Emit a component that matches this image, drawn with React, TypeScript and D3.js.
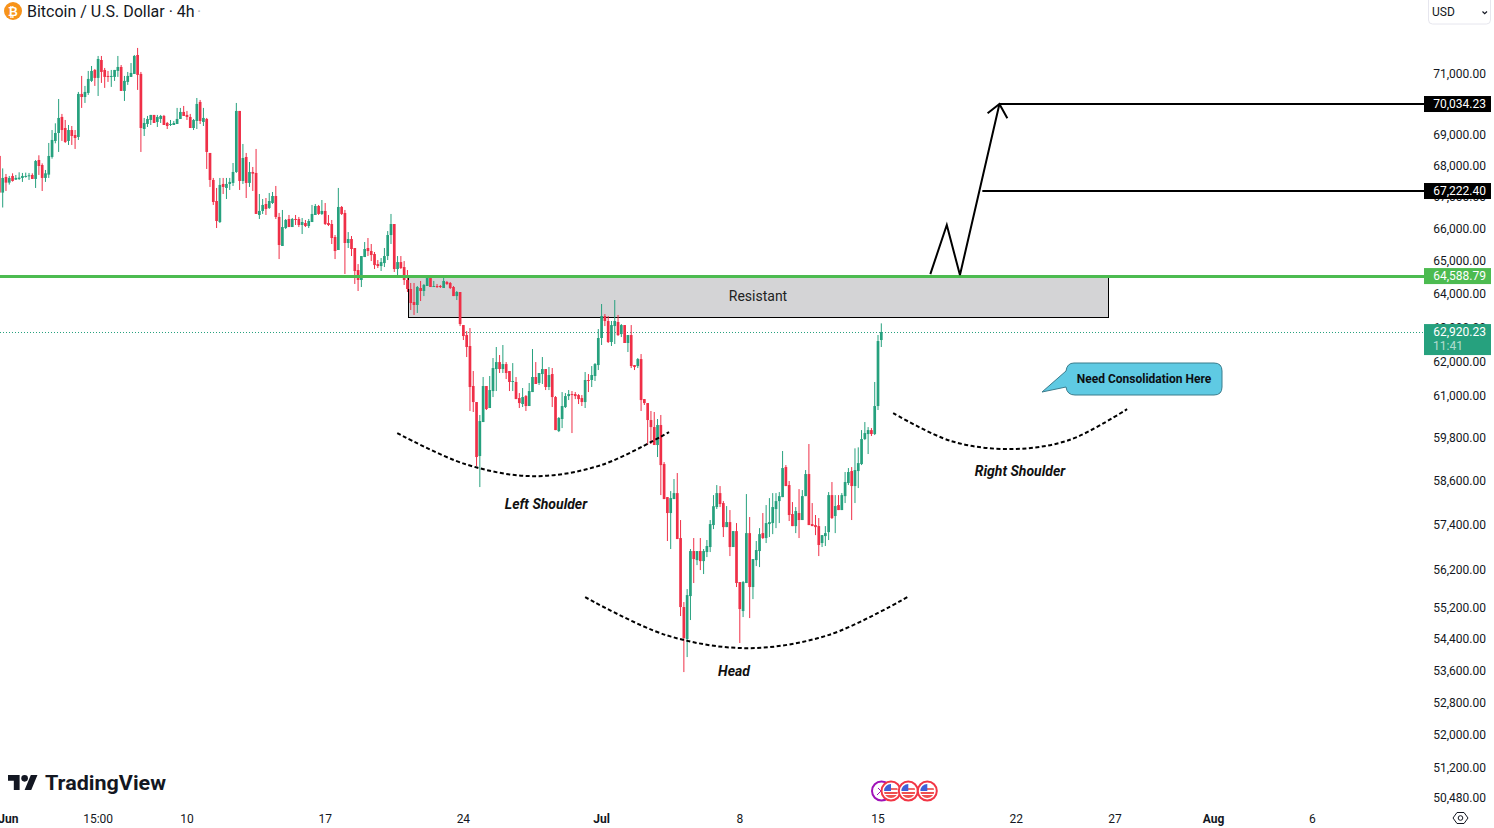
import React, { useEffect, useRef } from 'react'
import * as d3 from 'd3'

const opens = [68280,67110,67606,67426,67638,67522,67543,67575,67606,67638,
67670,67543,68149,67988,67575,67681,68246,68763,69021,69545,
69184,68763,69118,68956,68892,70303,70202,70336,70736,71102,
70836,71436,71102,70902,70869,70869,71069,71202,70403,70702,
70869,70969,71605,70969,69151,69315,69446,69611,69381,69479,
69578,69348,69282,69282,69315,69479,69709,69611,69545,69184,
69414,70038,69381,69479,68375,67511,66845,66186,67384,67257,
67384,67416,67765,69742,67479,68246,67416,67765,67734,66406,
66532,66751,66626,66782,67002,66344,65443,65999,66281,66030,
66281,66281,66093,66155,66061,66186,66406,66688,66438,66532,
66155,66124,65720,65319,66657,66469,65535,65658,65381,64706,
64403,65103,65381,65288,65196,64888,64827,64918,65134,65782,
66124,64736,64949,64797,64403,64130,63738,63649,64160,64070,
64221,64494,64190,64221,64221,64160,64342,64312,64190,63917,
64039,63050,62754,62431,61265,60804,59277,60234,61265,60633,
61120,61757,61960,61757,61902,61699,61381,61381,60918,60747,
60975,60690,61091,61525,61352,61612,61757,61236,61612,60947,
59978,60320,60661,60975,61033,61033,61004,60918,60804,61439,
61439,61554,61873,62666,63319,63170,62548,63020,63140,62783,
63050,62519,62754,61873,61844,62048,60889,60775,60291,60091,
59585,60149,59053,58141,57706,58087,58251,57030,55206,54380,
55492,56682,56441,56682,56414,56655,56789,57380,57869,58251,
57978,57325,57461,56789,57217,55860,55102,55834,57163,55729,
56441,56682,57163,57030,57407,57434,57815,58032,58141,58970,
58472,57679,57352,57706,57516,58168,58776,57407,57380,57352,
56896,57083,57190,58196,57625,57923,57787,58168,58527,58859,
58444,58859,59053,59754,59894,60006,59894,60690,62607]

const closes = [67110,67575,67426,67575,67479,67575,67585,67638,67638,67659,
67543,68116,67956,67575,67723,68278,68795,69021,69512,69118,
68730,69118,68924,68860,70303,70202,70369,70802,71069,70836,
71470,71035,70869,70869,70902,71102,71202,70403,70736,70902,
71002,71572,70936,69184,69348,69479,69611,69348,69545,69578,
69282,69249,69315,69348,69479,69709,69578,69545,69184,69446,
69972,69414,69512,68407,67511,66814,66218,67352,67289,67384,
67448,67765,69742,67479,68213,67416,67765,67712,66438,66532,
66720,66594,66845,67002,66344,65473,66030,66250,66030,66281,
66250,66093,66186,66061,66218,66438,66688,66438,66532,66124,
66093,65689,65288,66657,66438,65535,65658,65350,64676,64403,
65134,65350,65288,65165,64857,64827,64949,65134,65782,66124,
64736,64949,64767,64403,64130,63708,63649,64190,64070,64252,
64464,64190,64221,64190,64190,64373,64282,64160,63917,64039,
63080,62725,62401,61236,60804,59249,60262,61265,60604,61149,
61786,61960,61757,61902,61641,61381,61410,60889,60775,60947,
60690,61120,61525,61323,61641,61757,61236,61583,60947,60006,
60348,60690,60975,61033,61004,60975,60889,60804,61439,61410,
61583,61902,62666,63319,63170,62548,63050,63170,62754,63050,
62519,62754,61844,61815,62048,60861,60775,60291,60091,59585,
60149,59025,58087,57706,58114,58251,57003,55206,54405,55518,
56682,56468,56682,56414,56682,56816,57407,57892,58251,57951,
57325,57461,56789,57217,55834,55154,55860,57163,55729,56468,
56709,57136,57030,57434,57461,57869,58032,58168,58942,58444,
57652,57352,57760,57516,58168,58776,57380,57352,57325,56843,
57109,57163,58196,57570,57896,57787,58196,58555,58832,58444,
58887,59080,59754,59922,60006,59894,60690,62577,62842]

const highs = [68280,67880,67702,67638,67723,67670,67755,67734,67744,67734,
67723,68149,68300,68041,67829,68698,69118,69337,70136,69644,
69446,69282,69249,69118,70369,70902,70569,71069,71235,71135,
71572,71572,71169,71069,71102,71102,71572,71268,70902,71035,
71334,71605,71843,71035,69512,69578,69611,69611,69611,69611,
69611,69381,69446,69414,69841,69841,69906,69742,69644,69479,
70169,70104,69841,69512,68375,67575,67257,67575,67575,67575,
67575,68052,70005,69742,68665,68375,68084,67925,68504,67066,
66908,66939,67098,67129,67320,66469,66563,66281,66406,66312,
66406,66344,66312,66250,66281,66720,66751,66720,66876,66782,
66406,66250,65782,67257,66688,66563,65874,65751,65381,64888,
65134,65566,65689,65504,65258,65011,65073,65381,65905,66438,
66124,65134,65134,64980,64706,64312,64312,64221,64373,64282,
64524,64494,64373,64282,64252,64464,64373,64342,64221,64070,
64039,63050,62872,62961,61699,60804,60434,61525,61265,61554,
62078,62401,62166,62460,61960,61699,61931,61525,61062,61207,
61004,61352,62342,61960,61641,62107,61757,61815,61786,60975,
60377,61091,61062,61149,61120,61091,61033,61004,61670,61612,
61844,61931,62931,63678,63379,63319,63170,63798,63350,63080,
63050,62754,63050,61873,62078,62195,60889,60775,60548,60519,
60320,60434,59108,58141,58306,58638,58804,57516,55336,55676,
56736,57030,56682,57030,56736,56977,57516,58196,58472,58444,
58032,57896,57787,57217,57434,55860,55886,58224,57597,56468,
56950,57298,57706,57923,58114,58251,58251,58279,59417,59025,
58583,58005,57869,58361,58334,58887,59613,57978,57652,57570,
57109,57352,58279,58555,58196,58196,58251,58832,58942,58970,
59492,59520,60006,60234,60091,60063,61381,62754,63100]

const lows = [67110,66640,67161,67363,67458,67511,67511,67448,67585,67511,
67543,67257,67670,67161,67448,67575,68192,68687,68407,68763,
68698,68633,68633,68504,68795,69841,70005,70270,70702,70569,
70235,70669,70503,70702,70536,70736,70869,70403,70071,70603,
70869,70969,70436,68407,68924,69217,69282,69348,69217,69348,
69282,69151,69249,69282,69315,69479,69578,69446,69184,69118,
69151,69315,69249,67861,67289,66720,65999,66155,67066,66908,
67193,67320,67734,67193,67384,66939,67289,67161,66438,66281,
66438,66406,66594,66751,66281,65041,65443,65967,66030,66030,
66093,66030,65813,66030,65999,66186,66406,66406,66406,66093,
66061,65504,65041,65319,66406,64585,65381,65134,64282,64070,
64190,65103,65134,64980,64736,64767,64676,64797,65011,65504,
64646,64494,64736,64252,64039,63499,63350,63409,63768,63917,
64221,64190,64190,64160,64160,64160,64252,64130,63917,63798,
63020,62607,62107,60548,60519,58997,58417,60234,60576,60633,
60947,61120,61641,61641,61467,61120,61120,60889,60633,60661,
60548,60690,61091,61323,61294,61323,61149,61149,60661,60006,
59950,60063,60633,60861,59922,60889,60747,60690,60633,61091,
61236,61410,61728,62460,63020,62519,62431,62489,62725,62695,
62519,62254,61786,61728,61786,60548,60719,59585,59613,59585,
59249,58196,58087,56950,56736,58087,57003,54972,53540,53920,
54869,55834,56308,56176,56071,56521,56655,57271,57815,57869,
57057,57325,56548,56789,55729,54278,54946,55834,54920,55413,
56282,56255,57003,56896,57057,57136,57298,57434,58141,58444,
57489,57352,57163,57030,57516,58168,57380,57352,57109,56548,
56789,56816,56977,57543,57163,57787,57787,57978,58472,57516,
57978,58389,59025,59725,59333,59838,59866,60576,62401]

const priceTicks = [71000,70000,69000,68000,67000,66000,65000,64000,63000,62000,61000,59800,58600,57400,56200,55200,54400,53600,52800,52000,51200,50480]

const timeTicks = ['Jun','15:00','10','17','24','Jul','8','15','22','27','Aug','6']
const timeTickBars = [2.7,30,57,99,141,183,225,267,309,339,369,399]
const boldTimeTicks = ['Jun','Jul','Aug']

// drawings, in bar number and price
const zoneBars = [124.2, 336.9]
const zonePrices = [64490, 63290]
const resistPrice = 64522
const targetBars = [303.9, 298.7]
const targetPrices = [69970, 67160]
const targetLabels = ['70,034.23', '67,222.40']
const resistLabel = '64,588.79'
const lastLabel = '62,920.23'
const countdown = '11:41'

const zigzag: [number, number][] = [[282.9,64583],[287.9,66092],[291.9,64552],[303.9,69970]]
const arrowHead: [number, number][] = [[300.3,69665],[303.9,69970],[306.3,69500]]

const leftCurve: [number, number][] = [[120.9,59921],[141.5,59053],[162.2,58717],[182.9,59025],[203.5,59950]]
const headCurve: [number, number][] = [[178,55464],[202.6,54481],[227.2,54147],[251.9,54481],[276.5,55491]]
const rightCurve: [number, number][] = [[271.6,60489],[289.2,59697],[307.2,59471],[325.1,59725],[342.7,60602]]

const UP = '#26a17e'
const DOWN = '#ef2f47'
const LINE_GREEN = '#4cbb50'
const FONT = 'Roboto, sans-serif'
const INK = '#131722'

const W = 1494
const H = 828
const AXIS_X = 1424

function App() {
    const ref = useRef<SVGSVGElement | null>(null)

    useEffect(() => {
        const svg = d3.select(ref.current)
        svg.selectAll('*').remove()

        const x = d3.scaleLinear().domain([0, opens.length - 1]).range([-0.6, 881.3])
        const y = d3.scaleLog().domain([50480, 71000]).range([797, 73])
        const snap = (v: number) => Math.round(v) + 0.5

        const candles = opens.map((o, i) => ({ i, o, c: closes[i], h: highs[i], l: lows[i] }))
        const color = (d: any) => (d.c >= d.o ? UP : DOWN)

        // resistance zone sits behind the candles
        const zoneX = snap(x(zoneBars[0]))
        const zoneY = snap(y(zonePrices[0]))
        svg.append('rect')
            .attr('x', zoneX)
            .attr('y', zoneY)
            .attr('width', snap(x(zoneBars[1])) - zoneX)
            .attr('height', snap(y(zonePrices[1])) - zoneY)
            .attr('fill', '#d4d4d6')
            .attr('stroke', '#000')
            .attr('stroke-width', 1)

        svg.append('text')
            .attr('x', 758)
            .attr('y', 296)
            .attr('text-anchor', 'middle')
            .attr('dominant-baseline', 'central')
            .style('font', `14px ${FONT}`)
            .attr('fill', '#222')
            .text('Resistant')

        // last price line
        svg.append('line')
            .attr('x1', 0)
            .attr('x2', AXIS_X)
            .attr('y1', snap(y(closes[closes.length - 1])))
            .attr('y2', snap(y(closes[closes.length - 1])))
            .attr('stroke', UP)
            .attr('stroke-dasharray', '1 2')

        const g = svg.append('g')
        g.selectAll('line')
            .data(candles)
            .join('line')
            .attr('x1', d => x(d.i))
            .attr('x2', d => x(d.i))
            .attr('y1', d => y(d.h))
            .attr('y2', d => y(d.l))
            .attr('stroke', color)
            .attr('stroke-width', 1)
        g.selectAll('rect')
            .data(candles)
            .join('rect')
            .attr('x', d => x(d.i) - 1.35)
            .attr('y', d => y(Math.max(d.o, d.c)))
            .attr('width', 2.7)
            .attr('height', d => Math.max(1, Math.abs(y(d.o) - y(d.c))))
            .attr('fill', color)

        // drawings
        svg.append('line')
            .attr('x1', 0)
            .attr('x2', AXIS_X)
            .attr('y1', snap(y(resistPrice)))
            .attr('y2', snap(y(resistPrice)))
            .attr('stroke', LINE_GREEN)
            .attr('stroke-width', 3)

        targetBars.forEach((b, i) => {
            svg.append('line')
                .attr('x1', x(b))
                .attr('x2', AXIS_X)
                .attr('y1', y(targetPrices[i]))
                .attr('y2', y(targetPrices[i]))
                .attr('stroke', '#000')
                .attr('stroke-width', 2)
        })

        const path = d3.line<[number, number]>().x(d => x(d[0])).y(d => y(d[1]))
        ;[zigzag, arrowHead].forEach(pts => {
            svg.append('path')
                .attr('d', path(pts))
                .attr('fill', 'none')
                .attr('stroke', '#000')
                .attr('stroke-width', 2)
        })

        const smooth = path.curve(d3.curveCatmullRom)
        ;[leftCurve, headCurve, rightCurve].forEach(pts => {
            svg.append('path')
                .attr('d', smooth(pts))
                .attr('fill', 'none')
                .attr('stroke', '#000')
                .attr('stroke-width', 2)
                .attr('stroke-dasharray', '4 2.5')
        })

        const callouts = [
            { t: 'Left Shoulder', x: 546, y: 504 },
            { t: 'Right Shoulder', x: 1020, y: 471 },
            { t: 'Head', x: 734, y: 671 },
        ]
        svg.selectAll('text.callout')
            .data(callouts)
            .join('text')
            .attr('class', 'callout')
            .attr('x', d => d.x)
            .attr('y', d => d.y)
            .attr('text-anchor', 'middle')
            .attr('dominant-baseline', 'central')
            .style('font', `italic 700 14px ${FONT}`)
            .attr('fill', '#111')
            .text(d => d.t)

        // speech bubble
        svg.append('path')
            .attr('d', 'M1074 363 H1214 Q1222 363 1222 371 V387 Q1222 395 1214 395 H1075 Q1067 395 1066 387 L1042 392 L1066 371 Q1067 363 1074 363 Z')
            .attr('fill', '#5fcae3')
            .attr('stroke', '#3b7c8c')
            .attr('stroke-width', 1)
        svg.append('text')
            .attr('x', 1144)
            .attr('y', 379)
            .attr('text-anchor', 'middle')
            .attr('dominant-baseline', 'central')
            .style('font', `700 12px ${FONT}`)
            .attr('fill', '#0b0f14')
            .text('Need Consolidation Here')

        // price axis
        const axis = svg.append('g')
        axis.selectAll('text')
            .data(priceTicks)
            .join('text')
            .attr('x', 1486)
            .attr('y', d => y(d) + 1)
            .attr('text-anchor', 'end')
            .attr('dominant-baseline', 'central')
            .style('font', `12px ${FONT}`)
            .attr('fill', INK)
            .text(d => d3.format(',.2f')(d))

        const priceBox = (p: number, label: string, fill: string) => {
            axis.append('rect')
                .attr('x', AXIS_X)
                .attr('y', y(p) - 8)
                .attr('width', 67)
                .attr('height', 16)
                .attr('fill', fill)
            axis.append('text')
                .attr('x', 1486)
                .attr('y', y(p))
                .attr('text-anchor', 'end')
                .attr('dominant-baseline', 'central')
                .style('font', `12px ${FONT}`)
                .attr('fill', '#fff')
                .text(label)
        }
        targetPrices.forEach((p, i) => priceBox(p, targetLabels[i], '#000'))
        priceBox(resistPrice, resistLabel, LINE_GREEN)

        const lastY = y(closes[closes.length - 1])
        axis.append('rect')
            .attr('x', AXIS_X)
            .attr('y', lastY - 8)
            .attr('width', 67)
            .attr('height', 31)
            .attr('fill', UP)
        axis.append('text')
            .attr('x', 1486)
            .attr('y', lastY)
            .attr('text-anchor', 'end')
            .attr('dominant-baseline', 'central')
            .style('font', `12px ${FONT}`)
            .attr('fill', '#fff')
            .text(lastLabel)
        axis.append('text')
            .attr('x', 1433)
            .attr('y', lastY + 14)
            .attr('dominant-baseline', 'central')
            .style('font', `12px ${FONT}`)
            .attr('fill', '#fff')
            .attr('fill-opacity', 0.65)
            .text(countdown)

        // time axis
        svg.append('g')
            .selectAll('text')
            .data(timeTicks)
            .join('text')
            .attr('x', (d, i) => x(timeTickBars[i]))
            .attr('y', 819)
            .attr('text-anchor', 'middle')
            .attr('dominant-baseline', 'central')
            .style('font', d => `${boldTimeTicks.includes(d) ? 700 : 400} 12px ${FONT}`)
            .attr('fill', INK)
            .text(d => d)

        // header
        svg.append('circle').attr('cx', 13).attr('cy', 11).attr('r', 9).attr('fill', '#f7931a')
        svg.append('text')
            .attr('x', 13)
            .attr('y', 11.5)
            .attr('text-anchor', 'middle')
            .attr('dominant-baseline', 'central')
            .style('font', `700 12px ${FONT}`)
            .attr('fill', '#fff')
            .text('₿')
        svg.append('text')
            .attr('x', 27)
            .attr('y', 17)
            .style('font', `16px ${FONT}`)
            .attr('fill', INK)
            .text('Bitcoin / U.S. Dollar · 4h')
        svg.append('text')
            .attr('x', 197)
            .attr('y', 17)
            .style('font', `16px ${FONT}`)
            .attr('fill', '#b2b5be')
            .text('·')

        // currency selector
        svg.append('rect')
            .attr('x', 1428.5)
            .attr('y', -4)
            .attr('width', 62)
            .attr('height', 28)
            .attr('rx', 4)
            .attr('fill', '#fff')
            .attr('stroke', '#e6e6ee')
        svg.append('text')
            .attr('x', 1432)
            .attr('y', 12)
            .attr('dominant-baseline', 'central')
            .style('font', `12px ${FONT}`)
            .attr('fill', INK)
            .text('USD')
        svg.append('path')
            .attr('d', 'M1482.5 11.5 L1484.7 13.7 L1487 11.5')
            .attr('fill', 'none')
            .attr('stroke', INK)
            .attr('stroke-width', 1.2)

        // TradingView logo
        const logo = svg.append('g').attr('transform', 'translate(8,771.7) scale(0.83)').attr('fill', INK)
        logo.append('path').attr('d', 'M14 22H7V11H0V4h14v18zM28 22h-8l7.5-18h8L28 22z')
        logo.append('circle').attr('cx', 20).attr('cy', 8).attr('r', 4)
        svg.append('text')
            .attr('x', 45)
            .attr('y', 790)
            .attr('textLength', 121)
            .attr('lengthAdjust', 'spacingAndGlyphs')
            .style('font', `700 21px ${FONT}`)
            .attr('fill', INK)
            .text('TradingView')

        // event markers
        svg.append('circle')
            .attr('cx', 881.5)
            .attr('cy', 791)
            .attr('r', 9.5)
            .attr('fill', '#fff')
            .attr('stroke', '#a012b8')
            .attr('stroke-width', 2)
        svg.append('path')
            .attr('d', 'M878 788 L881 791 L877 795')
            .attr('fill', 'none')
            .attr('stroke', '#a012b8')
            .attr('stroke-width', 1)

        const defs = svg.append('defs')
        ;[891, 908.3, 927.3].forEach((cx, i) => {
            defs.append('clipPath')
                .attr('id', `flag${i}`)
                .append('circle')
                .attr('cx', cx)
                .attr('cy', 791)
                .attr('r', 7)
            svg.append('circle')
                .attr('cx', cx)
                .attr('cy', 791)
                .attr('r', 9.5)
                .attr('fill', '#fff')
                .attr('stroke', '#f23645')
                .attr('stroke-width', 2)
            const flag = svg.append('g').attr('clip-path', `url(#flag${i})`)
            flag.append('rect').attr('x', cx - 8).attr('y', 784).attr('width', 16).attr('height', 14).attr('fill', '#fff')
            flag.append('rect').attr('x', cx - 8).attr('y', 788).attr('width', 16).attr('height', 2).attr('fill', '#ef6a6a')
            flag.append('rect').attr('x', cx - 8).attr('y', 792).attr('width', 16).attr('height', 2).attr('fill', '#ef5050')
            flag.append('rect').attr('x', cx - 8).attr('y', 795).attr('width', 16).attr('height', 3).attr('fill', '#ef5050')
            flag.append('rect').attr('x', cx - 8).attr('y', 784).attr('width', 8).attr('height', 7).attr('fill', '#3f5fd8')
        })

        // auto scale button
        svg.append('path')
            .attr('d', 'M1453 818 L1457 812.5 H1464 L1468 818 L1464 823.5 H1457 Z')
            .attr('fill', 'none')
            .attr('stroke', INK)
            .attr('stroke-width', 1)
        svg.append('circle')
            .attr('cx', 1460.5)
            .attr('cy', 818)
            .attr('r', 2.3)
            .attr('fill', 'none')
            .attr('stroke', INK)
            .attr('stroke-width', 1)
    }, [])

    return (
        <div style={{ position: 'fixed', left: 0, top: 0, width: W, height: H, background: '#fff', overflow: 'hidden' }}>
            <svg ref={ref} width={W} height={H} style={{ display: 'block' }} />
        </div>
    )
}

export default App
